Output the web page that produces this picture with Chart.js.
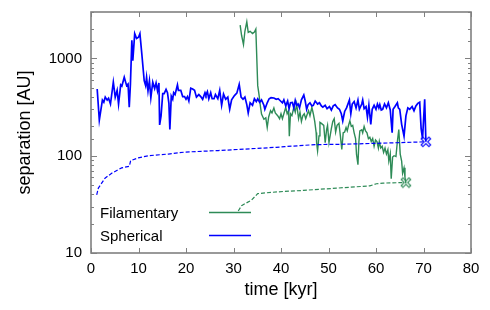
<!DOCTYPE html>
<html>
<head>
<meta charset="utf-8">
<script src="https://cdn.jsdelivr.net/npm/chart.js@4.4.1/dist/chart.umd.min.js"></script>
<style>
  html, body { margin: 0; padding: 0; background: #fff; }
  #wrap { width: 490px; height: 310px; }
</style>
</head>
<body>
<div id="wrap"><canvas id="sepChart" width="490" height="310"></canvas></div>
<script>
// Spherical - separacion (linea continua)
const sphTime = [1.3,1.75,2.4,2.7,3.0,3.4,3.7,4.1,4.7,5.1,5.5,5.8,6.25,6.5,7.0,7.5,7.8,8.05,8.3,8.6,8.8,9.2,9.6,10.0,10.3,10.7,11.2,11.5,11.7,12.0,12.3,12.6,13.0,13.4,13.7,14.0,14.3,14.45,14.75,15.1,15.4,15.8,16.1,16.4,16.6,16.9,17.2,17.4,17.7,18.2,18.4,18.9,19.3,19.7,20.0,20.3,20.6,21.0,21.4,21.8,22.2,22.7,23.1,23.5,24.0,24.2,24.5,24.8,25.2,25.5,25.9,26.2,26.7,27.1,27.5,27.9,28.35,28.8,29.2,29.6,30.2,30.7,31.2,31.6,32.0,32.4,32.8,33.1,33.5,34.0,34.4,34.8,35.1,35.5,35.9,36.4,36.6,37.1,37.5,37.9,38.5,39.0,39.4,39.9,40.3,40.6,41.0,41.4,41.7,42.0,42.4,42.7,43.0,43.3,43.6,43.9,44.3,44.8,45.1,45.4,45.7,46.1,46.5,46.8,47.2,47.7,48.1,48.5,48.8,49.3,49.7,50.2,50.6,51.0,51.4,51.9,52.3,52.7,53.0,53.4,53.8,54.4,54.7,55.0,55.4,55.8,56.2,56.5,57.0,57.2,57.5,57.9,58.2,58.5,58.9,59.2,59.6,60.0,60.3,60.6,60.8,61.1,61.4,61.8,62.2,62.6,63.0,63.4,63.6,64.0,64.5,64.7,65.0,65.4,65.9,66.3,66.7,67.1,67.6,68.0,68.4,68.8,69.2,69.5,69.8,70.25,70.5];
const sphSep = [485,232,373,355,400,373,390,340,570,400,470,340,535,520,640,525,545,315,545,1540,950,1800,1600,1650,1800,1110,590,525,640,465,590,395,570,490,560,465,560,207,257,435,435,480,445,345,186,410,380,445,425,535,470,470,405,405,380,405,365,495,485,470,400,425,405,380,445,420,455,385,445,385,385,425,385,470,330,430,380,400,300,375,415,440,540,400,380,400,335,275,350,330,385,360,385,355,375,330,300,350,385,395,392,380,385,365,350,375,325,365,305,350,352,310,370,330,340,310,375,420,365,300,335,350,325,330,365,340,350,325,315,330,305,320,295,325,335,310,300,270,228,285,310,373,270,340,360,310,373,300,340,373,305,320,250,330,210,300,330,300,340,310,335,295,300,340,310,350,295,172,300,320,350,310,300,210,159,257,310,300,320,290,325,345,355,190,150,380,139];

// Spherical - linea discontinua
const sphDashTime = [1.2,1.55,2.95,4.35,6.45,8.07,8.35,9.95,12.1,16.3,19.8,26.8,33.8,39.0,40.8,47.2,52.4,60.0,70.5];
const sphDashSep = [39.6,46.5,58.8,66,75,78,89,95,100,104,109,113,118,122,124,130,131,134,139];

// Filamentary - separacion (linea continua)
const filTime = [31.4,31.7,32.1,32.4,32.8,33.1,33.5,34.0,34.4,34.7,35.1,35.4,35.65,35.9,36.4,36.8,37.1,37.4,37.8,38.1,38.5,38.8,39.3,39.7,40.0,40.3,40.6,41.0,41.3,41.6,41.75,42.0,42.3,42.7,43.0,43.3,43.7,44.0,44.3,44.6,44.9,45.2,45.5,45.8,46.1,46.5,46.8,47.1,47.4,47.5,47.7,48.0,48.2,48.5,49.0,49.3,49.6,49.8,50.1,50.6,50.9,51.2,51.5,51.8,52.2,52.5,52.8,53.1,53.4,53.7,53.95,54.2,54.5,54.8,55.1,55.4,55.7,55.9,56.2,56.4,56.6,57.0,57.2,57.5,57.8,58.1,58.4,58.7,59.0,59.3,59.6,59.9,60.2,60.5,60.7,61.0,61.3,61.6,61.9,62.2,62.5,62.7,63.0,63.2,63.5,63.8,64.2,64.5,64.8,65.1,65.4,65.6,65.9,66.1,66.3];
const filSep = [2200,1730,1390,1900,2380,1850,1900,1800,1870,2000,525,415,326,268,237,245,195,250,290,275,310,275,258,240,270,240,270,315,270,290,159,270,258,315,280,340,240,280,225,258,270,240,265,290,258,315,270,225,173,136,112,160,220,215,205,136,185,205,136,190,225,240,175,205,215,160,116,172,175,195,180,203,228,200,205,172,150,103,81,140,180,185,172,200,180,172,150,155,140,150,125,145,140,120,140,120,125,108,120,104,115,88,105,58,97,100,98,140,186,104,88,66,75,60,52];

// Filamentary - linea discontinua
const filDashTime = [31.0,31.7,33.8,35.1,38.0,40.8,44.7,51.7,58.7,60.1,61.5,66.3];
const filDashSep = [27,30.7,35,40.8,42,43,44,46.4,49,51.5,52.3,53];

// Ticks
const xTicks = [0, 10, 20, 30, 40, 50, 60, 70, 80];
const yLabelTicks = [10, 100, 1000];

const blue = "#0000ff";
const green = "#2e8b57";

function toPoints(xs, ys) {
    return xs.map((x, i) => ({ x: x, y: ys[i] }));
}

// Marcador: X con contorno
function crossMarker(color) {
    const c = document.createElement("canvas");
    c.width = 12; c.height = 12;
    const g = c.getContext("2d");
    g.lineCap = "square";
    g.strokeStyle = color;
    g.lineWidth = 3.6;
    g.beginPath();
    g.moveTo(3, 3); g.lineTo(9, 9);
    g.moveTo(3, 9); g.lineTo(9, 3);
    g.stroke();
    g.strokeStyle = "#fff";
    g.lineWidth = 1.3;
    g.beginPath();
    g.moveTo(3, 3); g.lineTo(9, 9);
    g.moveTo(3, 9); g.lineTo(9, 3);
    g.stroke();
    return c;
}

function lastPointOnly(n) {
    return ctx => (ctx.dataIndex === n - 1 ? 6 : 0);
}

// Marco gris y marcas hacia dentro (estilo gnuplot) + leyenda
const framePlugin = {
    id: "frame",
    afterDatasetsDraw(chart) {
        const ctx = chart.ctx;
        const a = chart.chartArea;
        const xs = chart.scales.x;
        const ys = chart.scales.y;
        ctx.save();
        ctx.strokeStyle = "#808080";
        ctx.lineWidth = 1;
        ctx.beginPath();
        xTicks.forEach(v => {
            const px = Math.round(xs.getPixelForValue(v)) + 0.5;
            ctx.moveTo(px, a.bottom); ctx.lineTo(px, a.bottom - 5);
            ctx.moveTo(px, a.top); ctx.lineTo(px, a.top + 5);
        });
        ys.ticks.forEach(t => {
            const py = Math.round(ys.getPixelForValue(t.value)) + 0.5;
            const len = yLabelTicks.includes(t.value) ? 6 : 3;
            ctx.moveTo(a.left, py); ctx.lineTo(a.left + len, py);
            ctx.moveTo(a.right, py); ctx.lineTo(a.right - len, py);
        });
        ctx.stroke();
        ctx.lineWidth = 1.6;
        ctx.strokeRect(a.left, a.top, a.right - a.left, a.bottom - a.top);

        // leyenda
        ctx.font = "15px 'Liberation Sans', Arial, sans-serif";
        ctx.fillStyle = "#000";
        ctx.textBaseline = "alphabetic";
        const items = [["Filamentary", green, 218], ["Spherical", blue, 241]];
        items.forEach(it => {
            ctx.fillText(it[0], 100, it[2]);
            ctx.strokeStyle = it[1];
            ctx.lineWidth = 1.6;
            ctx.beginPath();
            ctx.moveTo(209, it[2] - 5.5);
            ctx.lineTo(251, it[2] - 5.5);
            ctx.stroke();
        });
        ctx.restore();
    }
};

const tickFont = { family: "'Liberation Sans', Arial, sans-serif", size: 15 };
const titleFont = { family: "'Liberation Sans', Arial, sans-serif", size: 18 };

new Chart(document.getElementById("sepChart"), {
    type: "line",
    data: {
        datasets: [
            {
                label: "Spherical",
                data: toPoints(sphTime, sphSep),
                borderColor: blue,
                borderWidth: 1.7,
                pointRadius: 0
            },
            {
                label: "Spherical (dashed)",
                data: toPoints(sphDashTime, sphDashSep),
                borderColor: blue,
                borderWidth: 1.2,
                borderDash: [4, 2],
                pointRadius: lastPointOnly(sphDashTime.length),
                pointStyle: crossMarker(blue)
            },
            {
                label: "Filamentary",
                data: toPoints(filTime, filSep),
                borderColor: green,
                borderWidth: 1.4,
                pointRadius: 0
            },
            {
                label: "Filamentary (dashed)",
                data: toPoints(filDashTime, filDashSep),
                borderColor: green,
                borderWidth: 1.2,
                borderDash: [4, 2],
                pointRadius: lastPointOnly(filDashTime.length),
                pointStyle: crossMarker(green)
            }
        ]
    },
    options: {
        responsive: false,
        animation: false,
        layout: { padding: { top: 12, right: 19, left: 0, bottom: 0 } },
        plugins: {
            legend: { display: false },
            tooltip: { enabled: false }
        },
        scales: {
            x: {
                type: "linear",
                min: 0,
                max: 80,
                afterFit: s => { s.height = 57; s.paddingLeft = 0; s.paddingRight = 0; },
                afterBuildTicks: s => { s.ticks = xTicks.map(v => ({ value: v })); },
                grid: { display: false, drawTicks: false },
                border: { display: false },
                ticks: { font: tickFont, color: "#000", padding: 7, maxRotation: 0, autoSkip: false },
                title: { display: true, text: "time [kyr]", font: titleFont, color: "#000", padding: { top: 0, bottom: 9 } }
            },
            y: {
                type: "logarithmic",
                min: 10,
                max: 3000,
                afterFit: s => { s.width = 91; s.paddingTop = 0; s.paddingBottom = 0; },
                grid: { display: false, drawTicks: false },
                border: { display: false },
                ticks: {
                    font: tickFont,
                    color: "#000",
                    padding: 9,
                    autoSkip: false,
                    callback: v => (yLabelTicks.includes(v) ? String(v) : "")
                },
                title: { display: true, text: "separation [AU]", font: titleFont, color: "#000", padding: { top: 14, bottom: 0 } }
            }
        }
    },
    plugins: [framePlugin]
});
</script>
</body>
</html>
